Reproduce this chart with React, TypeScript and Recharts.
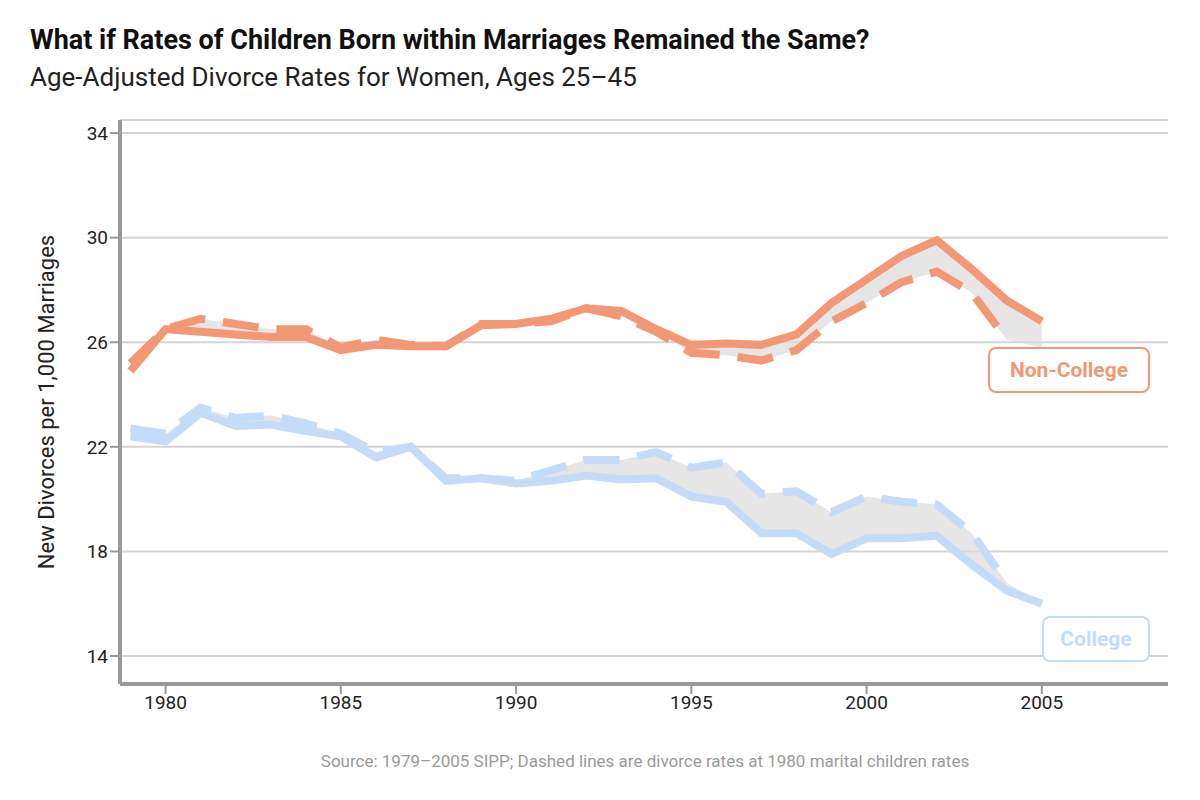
import React from "react";
import { ComposedChart, Line, Area, XAxis, YAxis, CartesianGrid } from "recharts";

const years = [1979,1980,1981,1982,1983,1984,1985,1986,1987,1988,1989,1990,1991,1992,1993,1994,1995,1996,1997,1998,1999,2000,2001,2002,2003,2004,2005];
const nonCollege = [24.9,26.5,26.4,26.3,26.2,26.2,25.7,25.9,25.85,25.85,26.65,26.7,26.9,27.3,27.2,26.5,25.9,25.95,25.9,26.3,27.5,28.4,29.3,29.9,28.8,27.6,26.8];
const nonCollegeAdj = [25.2,26.5,26.9,26.7,26.5,26.5,25.8,26.1,25.9,25.85,26.7,26.7,26.8,27.3,27.0,26.4,25.6,25.5,25.3,25.7,26.8,27.5,28.3,28.7,27.9,26.1,null];
const college = [22.4,22.2,23.3,22.8,22.85,22.6,22.4,21.6,22.0,20.7,20.8,20.6,20.7,20.9,20.75,20.8,20.1,19.9,18.7,18.7,17.9,18.5,18.5,18.6,17.5,16.5,16.0];
const collegeAdj = [22.7,22.5,23.5,23.1,23.2,22.9,22.5,21.8,22.0,20.8,20.8,20.7,21.1,21.5,21.5,21.8,21.2,21.4,20.2,20.3,19.5,20.1,19.9,19.8,18.7,16.8,null];
const xTicks = [1980,1985,1990,1995,2000,2005];
const yTicks = [14,18,22,26,30,34];

const ORANGE = "#F39875";
const BLUE = "#C5DCF8";
const FONT = "Roboto, 'Open Sans', sans-serif";

const data = years.map((y, i) => {
  const nc2 = nonCollegeAdj[i] ?? 25.8;
  const c2 = collegeAdj[i] ?? college[i];
  return {
    year: y,
    nc: nonCollege[i],
    ncAdj: nonCollegeAdj[i],
    c: college[i],
    cAdj: collegeAdj[i],
    ncBand: [Math.min(nonCollege[i], nc2), Math.max(nonCollege[i], nc2)],
    cBand: [Math.min(college[i], c2), Math.max(college[i], c2)],
  };
});

export default function App() {
  return (
    <div style={{ position: "relative", width: 1200, height: 800, margin: -8, background: "#fff", fontFamily: FONT }}>
      <div style={{ position: "absolute", left: 30, top: 24, fontSize: 27, fontWeight: 700, color: "#111" }}>
        What if Rates of Children Born within Marriages Remained the Same?
      </div>
      <div style={{ position: "absolute", left: 30, top: 62, fontSize: 26, color: "#222" }}>
        Age-Adjusted Divorce Rates for Women, Ages 25–45
      </div>
      <ComposedChart width={1200} height={800} data={data} margin={{ top: 120, right: 32, bottom: 76, left: 60 }}>
        <CartesianGrid horizontal vertical={false} stroke="#d4d4d4" strokeWidth={2} />
        <XAxis dataKey="year" type="number" domain={[1978.7, 2008.6]} ticks={xTicks} allowDataOverflow
          stroke="#999" strokeWidth={4} tickLine={{ stroke: "#999", strokeWidth: 2 }} tickSize={10}
          tick={{ fill: "#222", fontSize: 19, fontFamily: FONT }} height={40} />
        <YAxis type="number" domain={[12.93, 34.5]} ticks={yTicks} allowDataOverflow
          stroke="#999" strokeWidth={4} tickLine={{ stroke: "#999", strokeWidth: 2 }} tickSize={10}
          tick={{ fill: "#222", fontSize: 19, fontFamily: FONT }} width={60}
          label={{ value: "New Divorces per 1,000 Marriages", angle: -90, position: "insideLeft", offset: -14, fill: "#222", fontSize: 22, fontFamily: FONT, style: { textAnchor: "middle" } }} />
        <Area dataKey="ncBand" stroke="none" fill="#dcdcdc" fillOpacity={0.7} isAnimationActive={false} />
        <Area dataKey="cBand" stroke="none" fill="#dcdcdc" fillOpacity={0.7} isAnimationActive={false} />
        <Line dataKey="c" stroke={BLUE} strokeWidth={8} dot={false} isAnimationActive={false} />
        <Line dataKey="cAdj" stroke={BLUE} strokeWidth={8} strokeDasharray="36 18" dot={false} isAnimationActive={false} />
        <Line dataKey="nc" stroke={ORANGE} strokeWidth={8} dot={false} isAnimationActive={false} />
        <Line dataKey="ncAdj" stroke={ORANGE} strokeWidth={8} strokeDasharray="36 18" dot={false} isAnimationActive={false} />
      </ComposedChart>
      <div style={{ position: "absolute", left: 988, top: 347, width: 158, height: 42, border: `2px solid ${ORANGE}`, borderRadius: 8, background: "#fff", color: ORANGE, fontWeight: 700, fontSize: 21, display: "flex", alignItems: "center", justifyContent: "center" }}>Non-College</div>
      <div style={{ position: "absolute", left: 1042, top: 616, width: 104, height: 42, border: `2px solid ${BLUE}`, borderRadius: 8, background: "#fff", color: BLUE, fontWeight: 700, fontSize: 21, display: "flex", alignItems: "center", justifyContent: "center" }}>College</div>
      <div style={{ position: "absolute", left: 0, width: 1290, top: 751, textAlign: "center", fontSize: 17, color: "#9a9a9a" }}>
        Source: 1979–2005 SIPP; Dashed lines are divorce rates at 1980 marital children rates
      </div>
    </div>
  );
}
